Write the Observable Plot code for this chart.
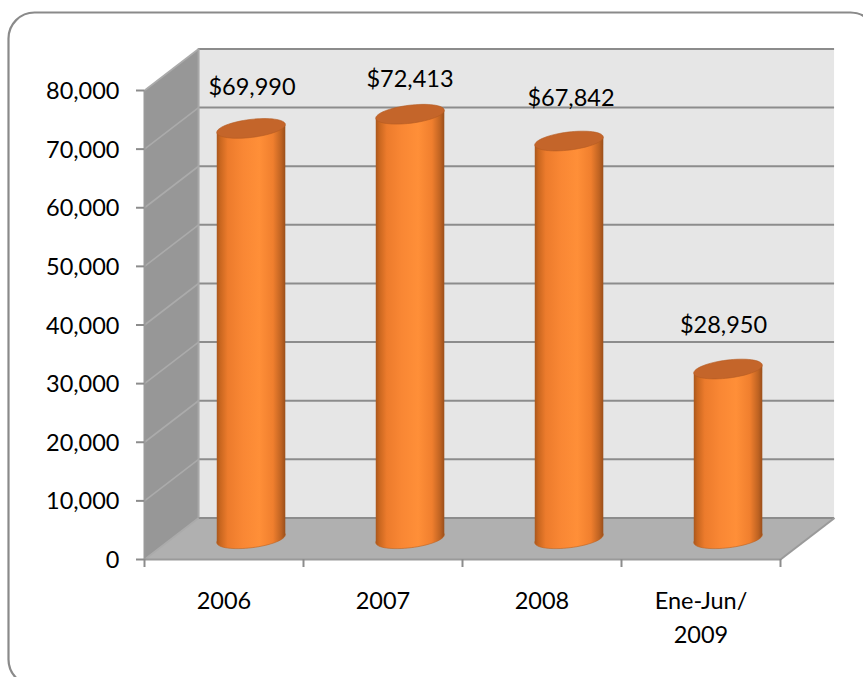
<!DOCTYPE html>
<html>
<head>
<meta charset="utf-8">
<style>
  html, body { margin: 0; background: #fff; overflow: hidden; }
  svg { display: block; }
</style>
<script src="https://cdn.jsdelivr.net/npm/d3@7"></script>
<script src="https://cdn.jsdelivr.net/npm/@observablehq/plot@0.6"></script>
</head>
<body>
<div id="chart"></div>
<script>
// Annual amounts per period
const periods = ["2006", "2007", "2008", "Ene-Jun/\n2009"];
const amounts = [69990, 72413, 67842, 28950];
const yTicks = [0, 10000, 20000, 30000, 40000, 50000, 60000, 70000, 80000];
const xTicks = [0, 1, 2, 3, 4];

// Oblique depth of the box, in data units of each axis
const depthX = 0.34;
const depthY = 7080;
// Cylinder half width and the rise of its elliptical ends at the silhouette
const halfWidth = 0.2155;
const rise = 665;

const rows = periods.map((period, i) => ({
  period,
  amount: amounts[i],
  slot: i + 0.5,
  cx: i + 0.5 + depthX / 2,
  base: depthY / 2,
  top: amounts[i] + depthY / 2
}));

// Outline of each cylinder's side, following the tilt of its ends
const bodies = rows.flatMap(({period, cx, base, top}) => [
  {period, px: cx - halfWidth, py: top - rise},
  {period, px: cx + halfWidth, py: top + rise},
  {period, px: cx + halfWidth, py: base + rise},
  {period, px: cx - halfWidth, py: base - rise}
]);

// Tilted ellipse used for the ends of each cylinder
const capSymbol = {
  draw(context) {
    const a = 34.5, b = 9, tilt = -7 * Math.PI / 180, n = 64;
    for (let k = 0; k <= n; ++k) {
      const t = (k / n) * 2 * Math.PI;
      const ex = a * Math.cos(t), ey = b * Math.sin(t);
      const px = ex * Math.cos(tilt) - ey * Math.sin(tilt);
      const py = ex * Math.sin(tilt) + ey * Math.cos(tilt);
      if (k === 0) context.moveTo(px, py); else context.lineTo(px, py);
    }
    context.closePath();
  }
};

const polygon = (points, options) =>
  Plot.line(points, {x: "0", y: "1", strokeLinejoin: "miter", ...options});

const gridColor = "#8c8c8c";
const labelSize = 23.5;

// Hand-placed label nudges, in pixels
const labelDx = [1, 0, 2, -4.5];
const labelDy = [-41, -35, -43, -44];

const chart = Plot.plot({
  width: 863,
  height: 677,
  marginLeft: 144,
  marginRight: 83,
  marginTop: 90,
  marginBottom: 118,
  style: {fontFamily: "Lato, sans-serif", color: "#000", background: "#fff"},
  x: {domain: [0, 4], label: null},
  y: {domain: [0, 80000], label: null},
  marks: [
    // Outer rounded border, running past the right and bottom edges of the page
    Plot.frame({
      rx: 26,
      stroke: "#8a8a8a",
      strokeWidth: 2.2,
      fill: "#fff",
      insetLeft: -136,
      insetTop: -78,
      insetRight: -96,
      insetBottom: -126
    }),
    // Back wall, side wall and floor of the box
    Plot.rect([0], {
      x1: depthX, x2: 4 + depthX,
      y1: depthY, y2: 80000 + depthY,
      fill: "#e6e6e6"
    }),
    polygon([[0, 0], [depthX, depthY], [depthX, 80000 + depthY], [0, 80000]], {fill: "#979797", stroke: "none"}),
    polygon([[0, 0], [4, 0], [4 + depthX, depthY], [depthX, depthY]], {fill: "#b0b0b0", stroke: "none"}),
    // Gridlines across the back wall and along the side wall
    Plot.ruleY(yTicks, {
      x1: depthX, x2: 4 + depthX,
      y: d => d + depthY,
      stroke: gridColor, strokeWidth: 2
    }),
    Plot.link(yTicks, {
      x1: 0, y1: d => d,
      x2: depthX, y2: d => d + depthY,
      stroke: "#ababab", strokeWidth: 1.6
    }),
    Plot.ruleX([depthX], {y1: depthY, y2: 80000 + depthY, stroke: "#a8a8a8", strokeWidth: 2}),
    // Front edges of the box
    Plot.ruleX([0], {y1: 0, y2: 80000, stroke: "#9a9a9a", strokeWidth: 2}),
    Plot.ruleY([0], {x1: 0, x2: 4, stroke: "#9a9a9a", strokeWidth: 2}),
    Plot.link([0], {x1: 4, y1: 0, x2: 4 + depthX, y2: depthY, stroke: "#9a9a9a", strokeWidth: 2}),
    // Axes: tick marks first, then the tick labels set slightly lower
    Plot.axisY({
      ticks: yTicks,
      tickFormat: () => "",
      tickSize: 8,
      stroke: "#8c8c8c",
      strokeWidth: 2,
      label: null
    }),
    Plot.axisY({
      ticks: yTicks,
      tickFormat: d3.format(","),
      tickSize: 0,
      tickPadding: 25,
      dy: 1,
      fontSize: labelSize,
      label: null
    }),
    Plot.axisX({
      ticks: xTicks,
      tickSize: 8,
      tickFormat: () => "",
      stroke: "#8c8c8c",
      strokeWidth: 2,
      label: null
    }),
    Plot.text(rows, {
      x: "slot", y: 0,
      text: "period",
      lineAnchor: "top",
      lineHeight: 1.42,
      dy: 26,
      fontSize: labelSize
    }),
    // Cylinders
    Plot.dot(rows, {x: "cx", y: "base", r: 1, symbol: capSymbol, fill: "url(#cylinderBody)", stroke: "#c0631f", strokeWidth: 0.6}),
    Plot.line(bodies, {x: "px", y: "py", z: "period", fill: "url(#cylinderBody)", stroke: "none"}),
    Plot.dot(rows, {x: "cx", y: "top", r: 1, symbol: capSymbol, fill: "#c4652a", stroke: "#b35a22", strokeWidth: 0.6}),
    // Value labels above each cylinder
    ...rows.map((row, i) => Plot.text([row], {
      x: "cx", y: "top",
      text: d => d3.format("$,")(d.amount),
      dx: labelDx[i],
      dy: labelDy[i],
      fontSize: labelSize
    }))
  ]
});

// Horizontal shading that gives the bars their round look
const defs = d3.create("svg:defs");
const gradient = defs.append("linearGradient").attr("id", "cylinderBody");
[[0, "#a9571d"], [0.05, "#c8661f"], [0.16, "#ec7b2c"], [0.38, "#f98734"], [0.62, "#ff8f38"],
 [0.82, "#f07f2e"], [0.94, "#bf6322"], [1, "#9a4f1b"]].forEach(([offset, color]) =>
  gradient.append("stop").attr("offset", offset).attr("stop-color", color));
chart.insertBefore(defs.node(), chart.firstChild);

document.getElementById("chart").append(chart);
</script>
</body>
</html>
